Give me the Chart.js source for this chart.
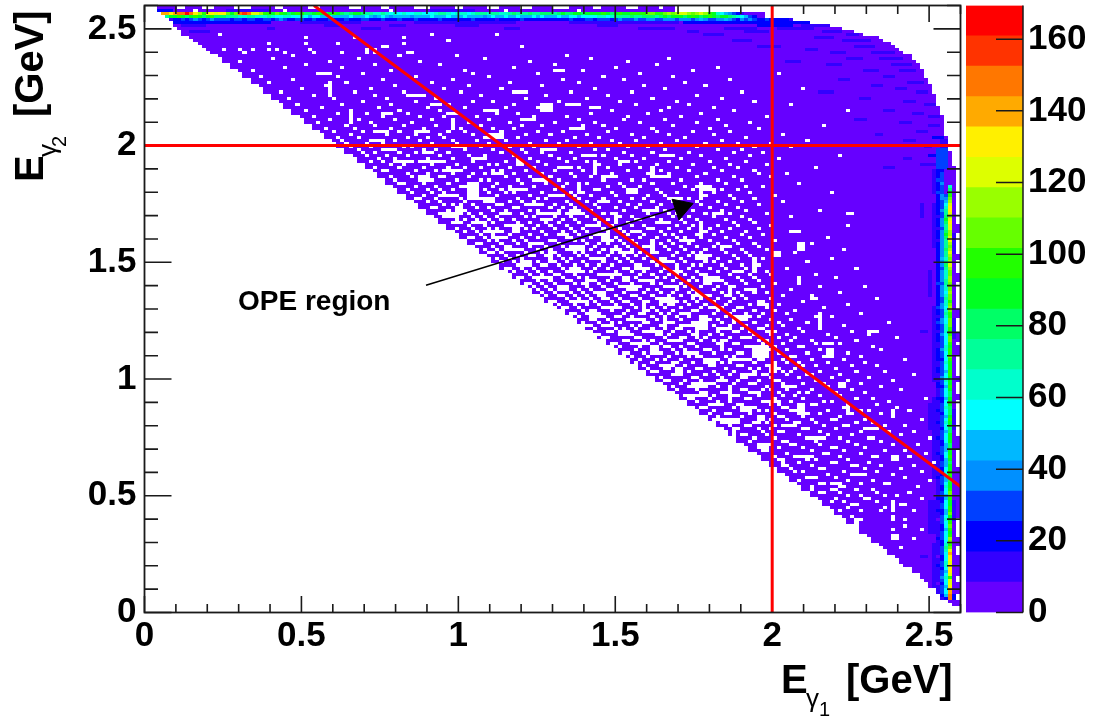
<!DOCTYPE html>
<html>
<head>
<meta charset="utf-8">
<title>OPE region</title>
<script src="https://cdn.jsdelivr.net/npm/chart.js@4/dist/chart.umd.js"></script>
<style>
body { margin: 0; background: #fff; width: 1094px; height: 717px; overflow: hidden; position: relative; }
canvas { position: absolute; top: 0; }
</style>
</head>
<body>
<canvas id="chart" width="1094" height="717" style="left:0"></canvas>
<canvas id="palette" width="134" height="717" style="left:960px"></canvas>
<script>
const binCount = 200;
const maxEnergy = 2.6;
const maxCount = 169.4;
const baseCount = 4;

const xTickLabels = [0, 0.5, 1, 1.5, 2, 2.5];
const yTickLabels = [0, 0.5, 1, 1.5, 2, 2.5];
const zTickLabels = [0, 20, 40, 60, 80, 100, 120, 140, 160];

// palette, lowest band first
const bandColors = ['#6600ff', '#3300ff', '#0000ff', '#0040ff', '#0090ff', '#00b8ff', '#00ffff', '#00ffcc', '#00ff99', '#00ff66',
    '#00ff22', '#22ff00', '#66ff00', '#99ff00', '#ddff00', '#fff000', '#ffaa00', '#ff7700', '#ff3300', '#ff0000'];

// first filled column of each row, bottom row first
const rowStart = [200, 200, 198, 197, 195, 195, 194, 194, 192, 192, 191, 190, 190, 188, 188, 186, 185, 185, 184, 182,
    182, 181, 180, 178, 178, 177, 175, 175, 174, 172, 172, 171, 169, 169, 168, 166, 166, 165, 163, 163,
    161, 161, 160, 158, 158, 157, 155, 155, 153, 153, 151, 151, 150, 148, 148, 147, 145, 145, 143, 143,
    142, 140, 140, 138, 138, 136, 136, 135, 133, 133, 131, 131, 130, 128, 128, 127, 125, 125, 123, 123,
    121, 121, 119, 119, 118, 116, 116, 115, 113, 113, 111, 111, 110, 108, 108, 106, 106, 105, 103, 103,
    101, 100, 98, 98, 97, 95, 95, 94, 92, 92, 90, 90, 89, 87, 87, 85, 85, 84, 82, 82,
    81, 79, 79, 77, 77, 76, 74, 74, 72, 72, 71, 69, 69, 67, 67, 66, 64, 64, 62, 62,
    61, 59, 59, 57, 57, 56, 54, 54, 52, 52, 51, 49, 49, 47, 47, 46, 44, 44, 43, 41,
    41, 39, 39, 38, 36, 36, 34, 34, 33, 31, 31, 29, 29, 28, 26, 26, 24, 24, 23, 21,
    21, 19, 19, 18, 16, 15, 14, 13, 12, 11, 9, 9, 8, 7, 7, 6, 5, 4, 3, 3];

// last filled column from row 136 up, rows below end at column 199
const rowEndTop = [198, 198, 198, 198, 198, 198, 198, 198, 198, 198, 198, 197, 197, 197, 197, 197, 196, 196, 196, 196,
    196, 195, 195, 195, 195, 195, 195, 195, 194, 194, 194, 193, 193, 193, 193, 192, 192, 192, 191, 191,
    190, 190, 190, 189, 189, 188, 187, 187, 185, 184, 183, 182, 180, 179, 175, 173, 170, 167, 162, 158,
    151, 151, 129, 129];

// rows where the last column is empty
const edgeHoleRows = [4, 5, 10, 11, 19, 20, 21, 25, 26, 27, 28, 29, 30, 48, 49, 50, 51, 52, 53, 58, 59, 60, 61, 62, 63, 64, 65, 66, 67, 68, 69,
    72, 73, 74, 75, 78, 79, 80, 81, 82, 83, 84, 88, 92, 93, 94, 95, 96, 100, 101, 102, 103, 104, 105, 106, 107, 108,
    112, 113, 114, 115, 118, 119, 120, 121, 122, 123, 124, 128, 129, 130, 131, 132, 133, 134, 135];

// empty bins, one list per row, from row 21 up
const firstHoleRow = 21;
const holeRows = [
    [185], [], [], [183, 184, 188], [183, 184], [], [183, 190], [174, 186], [], [175, 183, 186],
    [168, 173, 183], [], [170, 175, 180, 188], [166, 167, 172, 181], [173, 174, 185, 186], [168, 171, 179, 183], [169, 176, 177, 190], [172, 175, 181, 184], [165, 166, 170, 179, 187], [163, 168, 169, 174, 178],
    [163, 170, 171, 189], [165, 166, 175, 181, 182], [160, 172, 178, 192], [162, 163, 164, 169, 186], [167, 174, 175, 183], [159, 161, 171, 179, 190], [158, 165, 166, 176, 185], [156, 157, 163, 173, 174, 180, 188], [160, 168, 169, 177, 193], [155, 162, 164, 172, 184],
    [154, 159, 160, 170, 178, 179, 187], [157, 166, 167, 175, 191], [151, 152, 163, 171, 181, 186], [150, 155, 161, 168, 169, 176], [153, 158, 159, 165, 174, 183, 189], [148, 156, 157, 164, 172, 180], [149, 154, 162, 163, 170, 177, 178, 192], [146, 147, 152, 160, 167, 173, 185], [144, 151, 155, 156, 165, 175, 182, 188], [145, 150, 153, 161, 162, 169, 179],
    [143, 147, 148, 154, 158, 166, 171, 172, 181, 186], [141, 149, 150, 152, 159, 160, 164, 174, 178], [144, 145, 153, 157, 163, 168, 169, 176, 190], [140, 146, 151, 155, 156, 161, 170, 183], [138, 142, 143, 148, 154, 162, 165, 173, 180], [139, 147, 150, 152, 158, 159, 167, 175, 177, 187], [136, 137, 144, 149, 156, 157, 160, 171, 184], [141, 145, 146, 153, 155, 163, 164, 172, 179], [135, 140, 143, 151, 152, 158, 166, 168, 182], [133, 134, 138, 147, 148, 154, 161, 174, 178, 191],
    [132, 139, 144, 145, 150, 156, 159, 165, 170], [136, 137, 141, 142, 149, 155, 160, 162, 169, 176], [130, 135, 146, 147, 151, 153, 157, 163, 173, 185], [129, 133, 134, 140, 143, 152, 158, 159, 167, 171, 180], [131, 138, 139, 144, 148, 149, 156, 161, 166, 175], [127, 128, 132, 136, 142, 145, 150, 154, 155, 164, 172, 183], [126, 134, 135, 141, 146, 147, 153, 160, 168, 177], [129, 130, 137, 140, 143, 151, 152, 157, 162, 163, 170, 188], [124, 125, 131, 133, 139, 144, 149, 156, 158, 165, 174, 181], [123, 127, 128, 135, 136, 142, 148, 150, 155, 159, 169],
    [122, 126, 132, 138, 139, 145, 146, 152, 153, 161, 164, 173, 179], [120, 124, 129, 130, 134, 141, 143, 149, 154, 157, 160, 167, 176], [121, 125, 127, 131, 137, 140, 147, 148, 151, 156, 163, 171, 186], [119, 123, 128, 133, 135, 136, 142, 144, 150, 158, 159, 166, 175], [117, 118, 122, 126, 130, 134, 139, 145, 146, 152, 155, 162, 168, 172], [120, 124, 125, 129, 132, 137, 138, 143, 149, 153, 157, 165, 180], [116, 121, 127, 128, 131, 135, 141, 147, 148, 154, 160, 161, 178], [114, 115, 119, 123, 126, 133, 134, 140, 144, 145, 151, 156, 164, 170], [117, 118, 122, 124, 129, 130, 136, 139, 142, 150, 152, 158, 163, 174], [112, 113, 120, 121, 127, 131, 132, 137, 143, 146, 147, 155, 159, 169, 184],
    [111, 116, 119, 125, 126, 128, 134, 135, 138, 141, 149, 153, 157, 167, 177], [113, 114, 118, 122, 123, 129, 133, 140, 144, 145, 148, 154, 161, 173], [110, 115, 117, 120, 124, 127, 130, 131, 137, 142, 146, 150, 151, 160, 165], [108, 109, 112, 119, 121, 126, 132, 136, 139, 143, 147, 152, 156, 171], [107, 111, 114, 116, 122, 123, 128, 129, 134, 135, 141, 144, 149, 155, 162, 182], [109, 110, 113, 118, 120, 125, 127, 131, 138, 140, 145, 146, 153, 158], [106, 112, 115, 116, 119, 124, 130, 133, 136, 137, 142, 148, 150, 164, 168], [104, 105, 108, 111, 117, 121, 122, 126, 128, 132, 139, 143, 147, 151, 157, 175], [107, 109, 110, 114, 118, 123, 125, 129, 134, 135, 140, 144, 149, 154, 159], [102, 103, 106, 112, 113, 116, 120, 124, 127, 131, 136, 138, 141, 145, 146, 152, 166],
    [101, 105, 108, 111, 115, 119, 122, 126, 128, 129, 133, 137, 142, 148, 155, 172], [99, 100, 104, 107, 110, 114, 117, 118, 123, 130, 132, 135, 139, 143, 150, 151, 161], [103, 106, 109, 112, 113, 116, 121, 125, 127, 134, 136, 140, 144, 147, 153, 179], [98, 101, 102, 105, 108, 115, 119, 120, 124, 128, 131, 137, 138, 142, 146, 156, 163], [97, 100, 104, 107, 110, 111, 117, 122, 126, 129, 133, 135, 141, 145, 149, 152, 170], [96, 99, 103, 106, 109, 113, 114, 118, 123, 125, 130, 134, 139, 143, 148, 158], [95, 98, 101, 102, 108, 112, 116, 120, 121, 127, 128, 132, 136, 140, 144, 151, 165, 176], [93, 94, 97, 100, 105, 107, 111, 115, 119, 124, 126, 131, 137, 138, 142, 147, 154], [96, 99, 103, 104, 109, 110, 113, 117, 122, 123, 129, 133, 135, 141, 146, 150, 160], [91, 92, 95, 98, 102, 106, 108, 114, 118, 120, 125, 127, 130, 134, 139, 145, 149, 169],
    [94, 97, 100, 101, 105, 111, 112, 116, 121, 124, 128, 132, 136, 137, 143, 148, 153, 164], [90, 93, 96, 99, 103, 107, 109, 115, 119, 122, 126, 129, 131, 135, 140, 144, 152], [88, 89, 92, 95, 102, 104, 106, 110, 113, 117, 118, 123, 127, 133, 138, 142, 147, 157, 174], [91, 94, 97, 98, 101, 105, 108, 111, 114, 120, 121, 125, 130, 134, 136, 141, 146, 150], [87, 90, 93, 96, 100, 103, 107, 112, 116, 119, 124, 128, 132, 137, 139, 143, 149, 162], [86, 89, 92, 99, 102, 104, 109, 110, 115, 118, 122, 126, 127, 131, 135, 140, 145, 151, 168], [88, 91, 94, 95, 98, 101, 106, 108, 113, 117, 120, 123, 129, 133, 138, 144, 148, 155], [84, 85, 87, 93, 97, 100, 105, 107, 111, 114, 116, 121, 125, 130, 134, 136, 142, 147, 159], [83, 86, 90, 92, 96, 99, 103, 104, 109, 112, 119, 124, 128, 132, 137, 141, 146, 152, 171], [85, 88, 89, 94, 98, 102, 106, 110, 115, 118, 122, 123, 127, 131, 135, 139, 143, 150],
    [81, 82, 87, 91, 95, 97, 101, 108, 111, 113, 117, 120, 126, 129, 133, 140, 145, 149, 163], [84, 86, 90, 93, 99, 100, 105, 107, 114, 116, 119, 124, 128, 134, 138, 144, 154], [79, 80, 83, 88, 92, 96, 103, 104, 109, 112, 115, 121, 125, 130, 132, 136, 142, 148, 167], [82, 85, 89, 94, 98, 101, 106, 110, 111, 118, 122, 127, 129, 135, 139, 146, 151], [78, 81, 87, 90, 91, 97, 102, 105, 108, 113, 117, 120, 126, 131, 137, 141, 147, 160], [76, 80, 84, 86, 93, 95, 100, 104, 107, 112, 116, 123, 124, 128, 133, 138, 143, 150], [79, 83, 88, 89, 92, 96, 99, 103, 109, 114, 119, 122, 130, 134, 140, 145, 153, 172], [75, 77, 82, 85, 91, 94, 98, 101, 106, 111, 115, 118, 125, 127, 132, 136, 144, 149], [78, 81, 84, 87, 90, 97, 102, 105, 110, 113, 120, 121, 126, 131, 135, 142, 148], [73, 76, 80, 83, 86, 93, 95, 100, 104, 108, 116, 119, 124, 129, 133, 139, 146, 158],
    [72, 75, 79, 82, 89, 92, 98, 103, 107, 112, 114, 123, 128, 130, 137, 143, 152], [74, 77, 78, 85, 88, 94, 96, 101, 106, 109, 117, 122, 127, 134, 141, 147, 165], [70, 71, 76, 81, 84, 90, 91, 99, 102, 105, 111, 115, 120, 125, 132, 138, 145], [73, 75, 80, 86, 87, 93, 97, 100, 104, 110, 118, 121, 126, 131, 136, 142, 150], [69, 72, 78, 83, 89, 92, 95, 103, 108, 113, 116, 124, 129, 135, 140, 146, 156], [66, 67, 71, 77, 82, 85, 91, 96, 98, 106, 112, 119, 122, 128, 133, 144, 149], [68, 74, 76, 81, 86, 94, 99, 101, 105, 109, 115, 123, 127, 137, 143, 154], [65, 70, 73, 79, 84, 88, 90, 97, 104, 107, 114, 120, 126, 130, 139, 148, 168], [64, 69, 72, 75, 80, 83, 87, 93, 100, 110, 111, 118, 125, 134, 141, 145], [66, 71, 77, 78, 85, 89, 95, 102, 106, 113, 117, 121, 132, 138, 147, 151],
    [62, 63, 68, 74, 81, 86, 92, 98, 103, 108, 116, 124, 129, 136, 142, 160], [61, 67, 70, 76, 82, 84, 91, 96, 101, 112, 119, 122, 131, 140, 146], [60, 65, 72, 73, 79, 88, 94, 99, 105, 109, 115, 127, 135, 144, 153], [64, 69, 75, 80, 83, 90, 97, 104, 110, 114, 123, 128, 137, 150, 157], [58, 59, 66, 71, 77, 85, 87, 93, 100, 107, 118, 126, 133, 141, 149], [56, 62, 68, 74, 78, 82, 89, 95, 102, 106, 113, 121, 130, 139, 145, 164], [60, 63, 70, 76, 84, 86, 92, 98, 111, 116, 125, 134, 143, 152], [55, 58, 65, 67, 73, 80, 88, 96, 103, 108, 120, 128, 138, 147], [57, 61, 69, 75, 81, 91, 94, 101, 105, 115, 122, 131, 142, 155], [54, 59, 64, 72, 79, 83, 90, 99, 107, 112, 119, 129, 136, 148, 170],
    [53, 56, 62, 66, 74, 87, 93, 97, 104, 117, 124, 133, 144, 151], [52, 60, 68, 71, 78, 85, 92, 100, 110, 113, 127, 140, 146], [50, 55, 63, 65, 77, 82, 89, 95, 106, 118, 123, 135, 149, 158],
    // 2 GeV and up
    [49, 54, 58, 70, 76, 84, 94, 101, 109, 116, 126, 137, 145, 153], [48, 57, 61, 67, 75, 81, 88, 98, 103, 114, 120, 130, 141, 162], [47, 52, 64, 69, 73, 83, 91, 105, 111, 122, 132, 147], [50, 59, 66, 72, 80, 86, 93, 99, 108, 119, 128, 139, 156], [46, 53, 62, 74, 78, 87, 96, 102, 113, 125, 134, 143], [44, 51, 60, 68, 77, 85, 90, 104, 115, 124, 138, 150], [49, 56, 63, 71, 82, 92, 97, 107, 112, 129, 142, 166],
    [42, 55, 65, 75, 79, 89, 100, 110, 121, 135, 148], [45, 52, 61, 70, 84, 94, 106, 117, 127, 140], [41, 58, 67, 73, 81, 95, 103, 118, 131, 152], [47, 54, 64, 76, 86, 91, 109, 123, 136], [39, 50, 62, 72, 83, 99, 114, 126, 144, 172], [43, 57, 69, 78, 88, 96, 111, 128, 139], [37, 48, 60, 74, 90, 105, 120, 133, 158], [53, 66, 80, 85, 101, 116, 130, 149], [35, 46, 59, 71, 93, 108, 124, 141], [41, 56, 68, 82, 98, 113, 135],
    [33, 51, 63, 77, 92, 104, 119, 146], [38, 55, 73, 87, 110, 127, 161], [44, 61, 79, 97, 122, 137], [30, 49, 70, 89, 106, 132], [36, 58, 75, 102, 117, 143], [28, 47, 66, 84, 112, 129], [42, 53, 80, 96, 121, 155], [26, 60, 78, 107, 134], [34, 48, 90, 115, 140], [39, 56, 72, 100, 125],
    [23, 45, 67, 94, 118], [31, 52, 83, 109, 128], [36, 62, 76, 103], [24, 34, 41, 48, 54, 56, 64, 65], [19, 23, 26, 30, 32, 40, 54, 56], [58, 59, 92], [30, 39, 47, 63], [74], [39, 51, 63], [18, 70, 86]
];

// clumps of empty bins: first col, last col, first row, last row
const holeClumps = [[130, 130, 134, 136], [136, 136, 136, 140], [137, 139, 139, 139], [165, 165, 94, 98], [160, 161, 119, 121], [154, 155, 117, 118], [149, 149, 112, 116], [147, 149, 106, 106], [116, 119, 107, 107], [117, 118, 109, 110],
    [114, 116, 119, 119], [149, 152, 84, 87], [131, 135, 94, 94], [136, 137, 93, 97], [167, 168, 84, 86], [163, 164, 103, 103], [172, 173, 131, 131], [158, 159, 125, 125], [139, 145, 63, 63], [133, 137, 71, 71],
    [144, 144, 57, 60], [160, 163, 51, 51], [173, 176, 45, 45], [172, 172, 65, 68], [183, 183, 64, 66], [183, 184, 50, 51], [183, 183, 33, 35], [174, 174, 28, 30], [79, 81, 136, 140], [73, 75, 130, 131],
    [76, 76, 128, 132], [83, 86, 125, 125], [96, 101, 131, 131], [43, 45, 177, 177], [45, 45, 170, 174], [50, 50, 161, 165], [56, 59, 158, 158], [64, 67, 170, 170], [58, 61, 152, 152], [100, 102, 178, 178],
    [103, 106, 167, 167], [109, 111, 166, 166], [90, 93, 171, 171], [97, 99, 165, 167], [74, 76, 164, 164], [68, 72, 148, 148], [125, 128, 143, 143], [110, 110, 145, 148],
    [142, 145, 62, 62], [150, 151, 63, 64], [156, 159, 61, 61], [146, 148, 66, 67], [160, 161, 65, 68], [138, 141, 68, 68], [152, 155, 69, 69], [143, 143, 70, 73], [148, 150, 72, 72], [134, 137, 74, 75],
    [156, 158, 74, 74], [140, 142, 76, 76], [130, 131, 78, 80], [146, 149, 78, 78], [153, 154, 79, 81], [126, 129, 81, 81], [137, 139, 82, 83], [143, 146, 83, 83], [150, 150, 83, 87], [132, 135, 85, 85],
    [124, 125, 85, 87], [141, 141, 86, 89], [120, 123, 88, 88], [128, 131, 89, 89], [146, 148, 90, 90], [135, 135, 90, 93], [116, 118, 91, 92], [123, 126, 92, 92], [140, 143, 93, 93], [152, 154, 92, 92],
    [112, 114, 94, 94], [127, 127, 94, 97], [119, 122, 96, 96], [144, 147, 96, 97], [109, 111, 97, 98], [131, 133, 98, 98], [114, 116, 100, 100], [122, 122, 99, 102], [138, 141, 100, 100], [150, 152, 101, 101],
    [105, 108, 102, 102], [126, 129, 102, 103], [111, 112, 104, 105], [134, 136, 104, 104], [118, 120, 106, 106], [143, 143, 104, 107], [101, 103, 106, 107], [128, 130, 107, 107], [108, 108, 107, 110], [121, 124, 109, 109],
    [137, 140, 109, 110], [96, 99, 110, 110], [113, 115, 111, 111], [130, 130, 110, 113], [104, 106, 112, 113], [120, 122, 113, 113], [144, 146, 112, 112], [92, 94, 114, 115], [126, 129, 115, 115], [110, 112, 116, 116],
    [135, 137, 116, 117], [99, 99, 115, 118], [116, 119, 118, 118], [88, 91, 119, 119], [104, 107, 119, 120], [124, 124, 118, 121], [141, 143, 120, 120], [94, 96, 121, 121], [131, 134, 122, 122], [112, 113, 122, 124],
    [85, 87, 123, 123], [101, 103, 124, 124], [119, 121, 125, 125], [136, 136, 124, 127], [90, 91, 126, 127], [108, 111, 127, 127], [126, 128, 128, 128], [80, 83, 128, 128], [97, 99, 129, 129], [115, 115, 128, 131],
    [87, 89, 131, 131], [104, 106, 131, 132], [122, 125, 132, 132], [139, 141, 131, 131], [77, 77, 131, 134], [93, 96, 134, 134], [111, 113, 135, 135], [83, 85, 135, 136], [129, 131, 136, 136], [100, 102, 137, 137],
    [72, 75, 137, 137], [118, 120, 138, 139], [89, 92, 139, 139], [106, 106, 138, 141], [135, 137, 140, 140], [79, 81, 141, 141], [95, 98, 142, 142], [67, 69, 142, 143], [112, 115, 143, 143], [85, 87, 144, 144],
    [124, 124, 143, 146], [73, 76, 145, 145], [101, 104, 146, 146], [91, 92, 147, 148], [61, 64, 148, 148], [116, 118, 148, 148], [80, 83, 149, 149], [108, 110, 150, 150], [68, 70, 151, 151], [97, 99, 152, 152],
    [126, 129, 150, 150], [75, 78, 153, 153], [55, 58, 155, 155], [84, 87, 156, 157], [66, 69, 158, 158], [104, 107, 159, 159], [75, 75, 159, 162], [92, 95, 162, 162], [58, 60, 164, 164], [84, 86, 165, 165],
    [70, 72, 167, 167], [150, 152, 54, 55], [164, 166, 57, 57], [156, 156, 48, 50], [168, 170, 42, 42], [176, 178, 60, 60], [170, 171, 74, 75], [166, 168, 88, 88], [177, 179, 92, 92], [160, 160, 108, 110]];

// counts of the hot column and its neighbours, from row 4 up
const col197Counts = [145, 145, 140, 140, 130, 125, 120, 100, 125, 130, 130, 128, 122, 130, 135, 140, 125, 110, 100, 105, 115, 95, 90, 100, 110, 95, 88, 92, 105, 100,
    95, 90, 85, 98, 105, 110, 95, 90, 88, 80, 85, 95, 100, 92, 85, 82, 90, 98, 88, 85, 80, 78, 85, 92, 88, 82, 80, 85, 90, 95,
    88, 80, 78, 82, 88, 92, 85, 80, 82, 90, 95, 90, 85, 88, 95, 100, 92, 88, 90, 98, 105, 100, 95, 90, 95, 102, 108, 100, 95, 98,
    105, 110, 102, 98, 100, 108, 112, 105, 100, 102, 110, 115, 108, 104, 110, 118, 112, 105, 108, 115, 120, 112, 108, 114, 122, 118, 110, 115, 122, 126,
    118, 112, 120, 126, 130, 122, 116, 124, 130, 128, 120, 112, 105, 100, 90, 80, 60];
const col196Counts = [20, 45, 52, 55, 48, 52, 58, 62, 55, 48, 52, 60, 66, 58, 52, 56, 62, 70, 64, 55, 52, 58, 54, 48, 52, 56, 60, 54, 50, 48,
    52, 58, 54, 50, 46, 52, 56, 60, 52, 48, 50, 54, 58, 52, 48, 46, 50, 55, 52, 48, 45, 50, 54, 58, 52, 48, 52, 56, 60, 54,
    50, 52, 58, 62, 55, 52, 48, 54, 58, 52, 50, 55, 60, 56, 52, 50, 54, 58, 62, 56, 52, 55, 60, 64, 58, 54, 52, 56, 62, 66,
    60, 55, 58, 64, 68, 62, 56, 60, 66, 70, 62, 58, 60, 66, 72, 68, 62, 60, 66, 74, 78, 70, 64, 68, 76, 82, 74, 68, 72, 80,
    86, 78, 70, 74, 82, 88, 80, 72, 68, 60, 52, 44, 36, 30];
const col195Counts = [12, 22, 28, 30, 26, 24, 30, 34, 28, 26, 24, 30, 26, 24, 22, 28, 32, 26, 24, 22, 28, 30, 26, 24, 20, 26, 30, 28, 24, 22,
    28, 26, 22, 24, 30, 28, 24, 22, 26, 30, 28, 24, 20, 24, 28, 26, 22, 24, 28, 30, 26, 22, 20, 26, 30, 28, 24, 26, 30, 32,
    26, 24, 28, 30, 26, 22, 24, 28, 32, 28, 24, 26, 30, 34, 28, 26, 30, 32, 28, 24, 26, 30, 34, 30, 26, 28, 32, 36, 30, 26,
    30, 34, 36, 30, 28, 32, 36, 38, 32, 30, 34, 36, 40, 34, 30, 34, 38, 42, 36, 32, 36, 40, 44, 36, 34, 38, 42, 36, 34, 38,
    40, 36, 32, 36, 38, 34, 30, 32, 36, 32, 28, 30, 34, 36, 32, 30, 32, 34, 30, 28, 26, 24];
const col194Counts = [4, 8, 12, 14, 10, 8, 12, 16, 12, 10, 14, 18, 12, 10, 8, 12, 16, 14, 10, 12, 18, 14, 10, 12, 16, 12, 8, 10, 14, 18,
    12, 10, 16, 18, 12, 10, 14, 10, 12, 16, 18, 14, 10, 12, 16, 14, 10, 12, 18, 16, 12, 10, 14, 18, 12, 10, 14, 16, 18, 14,
    12, 16, 18, 14, 12, 16, 20, 16, 12, 14, 18, 20, 16, 12, 14, 18, 22, 16, 14, 18, 20, 24, 18, 14, 16, 20, 24, 18, 16, 20,
    22, 26, 20, 16, 18, 22, 26, 20, 18, 22, 24, 20, 18, 22, 26, 22, 18, 20, 24, 22, 18, 20, 24, 20, 18, 22, 24, 20, 16, 20,
    22, 18, 16, 20, 22, 18, 14, 18, 20, 24, 20, 18, 22, 24, 28, 24, 20, 24, 26, 24, 22, 20];

// counts along the hot rows at the top, each starting at its first column
const row197Counts = [140, 142, 135, 138, 145, 150, 165, 145, 130, 118, 100, 128, 135, 122, 132, 128, 105, 92, 110, 145, 160, 148, 125, 120, 115, 100, 96, 92, 110, 100,
    88, 84, 92, 100, 96, 84, 80, 90, 96, 86, 82, 92, 98, 88, 80, 72, 78, 85, 90, 82, 74, 68, 62, 66, 72, 64, 58, 62, 56, 60,
    54, 58, 62, 66, 58, 52, 56, 62, 68, 72, 64, 58, 62, 66, 60, 56, 62, 68, 74, 68, 62, 70, 74, 66, 62, 70, 78, 74, 70, 76,
    80, 74, 70, 78, 84, 80, 76, 82, 86, 80, 84, 90, 86, 82, 88, 92, 86, 90, 96, 90, 84, 92, 98, 92, 88, 94, 100, 94, 98, 104,
    108, 100, 96, 104, 112, 108, 116, 122, 126, 118, 110, 118, 124, 112, 100, 85, 60, 56, 50, 36, 30, 22, 14, 8, 5, 4, 4, 4];
const row196Counts = [70, 88, 92, 96, 90, 84, 92, 98, 88, 84, 90, 94, 84, 78, 82, 74, 70, 76, 66, 62, 70, 74, 66, 60, 64, 70, 62, 58, 54, 62,
    66, 58, 54, 60, 52, 48, 54, 58, 50, 46, 52, 48, 44, 50, 46, 52, 48, 44, 50, 54, 46, 42, 48, 52, 46, 42, 48, 44, 50, 46,
    42, 46, 50, 44, 48, 52, 46, 44, 50, 54, 48, 44, 46, 52, 48, 44, 50, 46, 42, 48, 52, 44, 48, 54, 50, 46, 52, 48, 44, 50,
    54, 48, 52, 46, 44, 50, 54, 50, 46, 52, 56, 50, 54, 58, 52, 56, 60, 64, 58, 62, 70, 74, 68, 72, 78, 74, 70, 78, 84, 80,
    76, 84, 88, 82, 86, 92, 88, 84, 90, 94, 88, 84, 92, 96, 88, 84, 90, 86, 80, 76, 62, 52, 44, 30, 20, 8, 4];
const row195Counts = [14, 20, 24, 26, 22, 30, 34, 28, 24, 30, 36, 30, 26, 32, 28, 24, 30, 26, 22, 28, 30, 24, 20, 26, 30, 24, 28, 34, 30, 24,
    20, 26, 30, 24, 22, 28, 24, 20, 24, 28, 22, 18, 24, 28, 24, 20, 22, 26, 30, 24, 20, 24, 28, 22, 20, 24, 28, 24, 20, 22,
    26, 20, 18, 24, 20, 24, 28, 22, 18, 20, 24, 22, 18, 22, 26, 20, 18, 22, 24, 20, 16, 20, 24, 22, 18, 22, 26, 22, 18, 20,
    24, 20, 18, 22, 20, 18, 22, 24, 26, 22, 20, 24, 28, 26, 24, 28, 32, 26, 24, 30, 34, 28, 26, 30, 36, 32, 28, 34, 38, 32,
    30, 36, 40, 34, 30, 36, 42, 36, 32, 38, 44, 36, 30, 26, 34, 38, 44, 36, 28, 24, 40, 30, 36, 26, 22, 24, 26, 22, 24, 20,
    20, 18, 16];

// strips of slightly higher counts: first col, last col, first row, last row, count
const countPatches = [[7, 30, 194, 194, 18], [38, 52, 194, 194, 12], [66, 90, 194, 194, 12], [104, 130, 194, 194, 14], [132, 162, 194, 194, 20],
    [150, 158, 193, 193, 20], [161, 167, 193, 193, 14], [142, 149, 192, 192, 12], [155, 163, 192, 192, 14], [9, 14, 193, 193, 12], [11, 15, 191, 191, 12], [30, 31, 192, 192, 12],
    [44, 47, 193, 193, 12], [53, 57, 192, 192, 12], [60, 63, 193, 193, 12], [76, 81, 193, 193, 12], [88, 91, 192, 192, 12], [111, 115, 193, 193, 12], [121, 129, 192, 192, 12], [133, 135, 191, 191, 12],
    [137, 141, 190, 190, 12], [147, 152, 191, 191, 12], [144, 148, 188, 188, 12], [150, 155, 186, 186, 12], [166, 170, 191, 191, 14], [172, 174, 190, 190, 12], [164, 168, 189, 189, 12], [171, 177, 188, 188, 14],
    [174, 178, 186, 186, 12], [168, 171, 184, 184, 12], [178, 183, 184, 184, 14], [162, 164, 185, 185, 12], [180, 185, 182, 182, 12], [172, 175, 182, 182, 12], [157, 160, 181, 181, 12], [183, 187, 180, 180, 14],
    [167, 170, 180, 180, 12], [176, 179, 178, 178, 12], [185, 188, 178, 178, 12], [181, 183, 176, 176, 14], [170, 172, 175, 175, 12], [187, 190, 174, 174, 14], [178, 180, 173, 173, 12], [184, 186, 172, 172, 12],
    [189, 191, 171, 171, 14], [165, 168, 171, 171, 12], [175, 177, 169, 169, 12], [186, 188, 168, 168, 12], [191, 193, 167, 167, 14], [181, 183, 165, 165, 12], [188, 190, 164, 164, 12], [192, 194, 163, 163, 16],
    [174, 176, 162, 162, 12], [185, 187, 161, 161, 12], [192, 194, 160, 160, 14], [189, 191, 158, 158, 14], [179, 180, 157, 157, 12], [193, 195, 156, 156, 18], [186, 188, 155, 155, 12], [191, 192, 153, 153, 14],
    [195, 196, 153, 155, 16], [194, 196, 146, 152, 28], [192, 193, 150, 150, 18], [186, 187, 149, 149, 12], [190, 193, 147, 147, 14], [181, 183, 146, 146, 12], [193, 193, 138, 145, 12], [190, 190, 130, 134, 12],
    [193, 193, 120, 134, 12], [192, 192, 104, 112, 12], [190, 191, 92, 92, 12], [193, 193, 76, 100, 12], [192, 192, 60, 68, 12], [193, 193, 44, 70, 12], [192, 193, 26, 36, 12], [190, 191, 18, 18, 12],
    [193, 193, 8, 22, 12], [188, 189, 12, 12, 12], [198, 198, 4, 5, 20], [198, 198, 30, 36, 12], [198, 198, 60, 66, 12], [198, 198, 90, 96, 12], [198, 198, 118, 124, 14], [2, 6, 198, 198, 20], [20, 30, 198, 198, 12], [70, 80, 198, 198, 12]];

// empty bins of the two rows touching the top of the frame
const row199Holes = [8, 9, 14, 15, 16, 22, 23, 24, 25, 32, 33, 40, 41, 42, 50, 51, 52, 58, 59, 66, 67, 68, 69, 76, 77, 84, 85, 86, 92, 93, 94, 100, 101, 102, 103, 110, 111, 118, 119, 120, 126];
const row198Holes = [12, 34, 60, 88, 106];

// red lines and the arrow, in GeV
const cutE1 = [2, 2];
const cutE1Range = [0, 2.6];
const cutE2 = [2, 2];
const cutSumE1 = [0.54, 2.6];
const cutSumE2 = [2.6, 0.54];
const arrowE1 = [0.897, 1.705];
const arrowE2 = [1.402, 1.736];
const arrowHeadE1 = [1.681, 1.748, 1.703, 1.681];
const arrowHeadE2 = [1.77, 1.752, 1.681, 1.77];

const binWidth = maxEnergy / binCount;

function buildCells() {
    let grid = [];
    for (let r = 0; r < binCount; r++) {
        let last = r < 136 ? 199 : rowEndTop[r - 136];
        let row = {};
        for (let c = rowStart[r]; c <= last; c++) {
            row[c] = baseCount;
        }
        grid.push(row);
    }
    function put(c, r, v) {
        if (grid[r] && grid[r][c] !== undefined) {
            grid[r][c] = v;
        }
    }
    countPatches.forEach(p => {
        for (let c = p[0]; c <= p[1]; c++) {
            for (let r = p[2]; r <= p[3]; r++) {
                put(c, r, p[4]);
            }
        }
    });
    col197Counts.forEach((v, i) => put(197, i + 4, v));
    col196Counts.forEach((v, i) => put(196, i + 4, v));
    col195Counts.forEach((v, i) => put(195, i + 4, v));
    col194Counts.forEach((v, i) => put(194, i + 4, v));
    row197Counts.forEach((v, i) => put(i + 4, 197, v));
    row196Counts.forEach((v, i) => put(i + 5, 196, v));
    row195Counts.forEach((v, i) => put(i + 6, 195, v));

    holeRows.forEach((list, i) => list.forEach(c => { delete grid[i + firstHoleRow][c]; }));
    holeClumps.forEach(h => {
        for (let c = h[0]; c <= h[1]; c++) {
            for (let r = h[2]; r <= h[3]; r++) {
                delete grid[r][c];
            }
        }
    });
    edgeHoleRows.forEach(r => { delete grid[r][199]; });
    row199Holes.forEach(c => { delete grid[199][c]; });
    row198Holes.forEach(c => { delete grid[198][c]; });

    let cells = [];
    grid.forEach((row, r) => {
        Object.keys(row).forEach(c => {
            cells.push({ x: (Number(c) + 0.5) * binWidth, y: (r + 0.5) * binWidth, v: row[c] });
        });
    });
    return cells;
}

function pairs(xs, ys) {
    return xs.map((x, i) => ({ x: x, y: ys[i] }));
}

function bandColor(v) {
    let band = Math.floor(v / (maxCount / bandColors.length));
    return bandColors[Math.min(band, bandColors.length - 1)];
}

// inward ticks on all four sides
function drawTicks(chart) {
    let ctx = chart.ctx;
    let a = chart.chartArea;
    let xs = chart.scales.x;
    let ys = chart.scales.y;
    ctx.save();
    ctx.strokeStyle = '#1a1a1a';
    ctx.lineWidth = 1.6;
    ctx.beginPath();
    for (let i = 0; i <= 26; i++) {
        let major = i % 5 === 0;
        let xp = xs.getPixelForValue(i / 10);
        let yp = ys.getPixelForValue(i / 10);
        let xLen = major ? 16.5 : 8.5;
        let yLen = major ? 27 : 13.5;
        ctx.moveTo(xp, a.bottom);
        ctx.lineTo(xp, a.bottom - xLen);
        ctx.moveTo(xp, a.top);
        ctx.lineTo(xp, a.top + xLen);
        ctx.moveTo(a.left, yp);
        ctx.lineTo(a.left + yLen, yp);
        ctx.moveTo(a.right, yp);
        ctx.lineTo(a.right - yLen, yp);
    }
    ctx.stroke();
    ctx.restore();
}

// paints the histogram cells as rectangles through the chart's scales
const cellPainter = {
    id: 'cellPainter',
    beforeDatasetDraw(chart, args) {
        if (args.index !== 0) {
            return;
        }
        let ctx = chart.ctx;
        let xs = chart.scales.x;
        let ys = chart.scales.y;
        ctx.save();
        chart.data.datasets[0].data.forEach(d => {
            let x0 = Math.round(xs.getPixelForValue(d.x - binWidth / 2));
            let x1 = Math.round(xs.getPixelForValue(d.x + binWidth / 2));
            let y0 = Math.round(ys.getPixelForValue(d.y + binWidth / 2));
            let y1 = Math.round(ys.getPixelForValue(d.y - binWidth / 2));
            ctx.fillStyle = bandColor(d.v);
            ctx.fillRect(x0, y0, x1 - x0, y1 - y0);
        });
        ctx.restore();
        drawTicks(chart);
        return false;
    }
};

// frame and titles
const framePainter = {
    id: 'framePainter',
    afterDatasetsDraw(chart) {
        let ctx = chart.ctx;
        let a = chart.chartArea;
        ctx.save();
        ctx.strokeStyle = '#1a1a1a';
        ctx.lineWidth = 1.8;
        ctx.strokeRect(a.left, a.top, a.right - a.left, a.bottom - a.top);

        ctx.fillStyle = '#000';
        ctx.textBaseline = 'alphabetic';
        ctx.textAlign = 'left';
        ctx.font = 'bold 28px "Liberation Sans"';
        ctx.fillText('OPE region', 238, 310);

        ctx.font = 'bold 40px "Liberation Sans"';
        ctx.fillText('E', 781, 693);
        ctx.fillText('[GeV]', 846, 693);
        ctx.font = '26px "Liberation Sans"';
        ctx.fillText('γ', 806, 707);
        ctx.font = '20px "Liberation Sans"';
        ctx.fillText('1', 819, 716);

        ctx.translate(43, 182);
        ctx.rotate(-Math.PI / 2);
        ctx.font = 'bold 40px "Liberation Sans"';
        ctx.fillText('E', 0, 0);
        ctx.fillText('[GeV]', 65, 0);
        ctx.font = '26px "Liberation Sans"';
        ctx.fillText('γ', 25, 13);
        ctx.font = '20px "Liberation Sans"';
        ctx.fillText('2', 35, 23);
        ctx.restore();
    }
};

const tickFont = { family: 'Liberation Sans', weight: 'bold', size: 35 };

new Chart(document.getElementById('chart').getContext('2d'), {
    type: 'scatter',
    data: {
        datasets: [
            { label: 'cells', data: buildCells(), order: 10, pointRadius: 0 },
            { label: 'E1 cut', data: pairs(cutE1, cutE1Range), showLine: true, borderColor: '#ff0000', borderWidth: 3, pointRadius: 0, order: 3 },
            { label: 'E2 cut', data: pairs(cutE1Range, cutE2), showLine: true, borderColor: '#ff0000', borderWidth: 3, pointRadius: 0, order: 3 },
            { label: 'sum cut', data: pairs(cutSumE1, cutSumE2), showLine: true, borderColor: '#ff0000', borderWidth: 3, pointRadius: 0, order: 3 },
            { label: 'arrow', data: pairs(arrowE1, arrowE2), showLine: true, borderColor: '#000', borderWidth: 1.6, pointRadius: 0, order: 2 },
            { label: 'arrow head', data: pairs(arrowHeadE1, arrowHeadE2), showLine: true, borderColor: '#000', borderWidth: 1, backgroundColor: '#000', fill: 'shape', pointRadius: 0, tension: 0, order: 1 }
        ]
    },
    options: {
        responsive: false,
        animation: false,
        events: [],
        layout: { padding: { top: 5.5, right: 133.5 } },
        plugins: { legend: { display: false }, tooltip: { enabled: false } },
        scales: {
            x: {
                type: 'linear',
                min: 0,
                max: maxEnergy,
                grid: { display: false, drawTicks: false },
                border: { display: false },
                afterFit: s => { s.height = 104.5; s.paddingLeft = 0; s.paddingRight = 0; },
                afterBuildTicks: s => { s.ticks = xTickLabels.map(v => ({ value: v })); },
                ticks: { color: '#000', font: tickFont, padding: 3, maxRotation: 0, autoSkip: false, callback: v => String(v) }
            },
            y: {
                type: 'linear',
                min: 0,
                max: maxEnergy,
                grid: { display: false, drawTicks: false },
                border: { display: false },
                afterFit: s => { s.width = 144.5; s.paddingTop = 0; s.paddingBottom = 0; },
                afterBuildTicks: s => { s.ticks = yTickLabels.map(v => ({ value: v })); },
                ticks: { color: '#000', font: tickFont, padding: 8, autoSkip: false, callback: v => String(v) }
            }
        }
    },
    plugins: [cellPainter, framePainter]
});

// colour scale
const bandHeight = maxCount / bandColors.length;
const paletteFrame = {
    id: 'paletteFrame',
    afterDatasetsDraw(chart) {
        let ctx = chart.ctx;
        let a = chart.chartArea;
        let zs = chart.scales.y;
        ctx.save();
        ctx.strokeStyle = '#1a1a1a';
        ctx.lineWidth = 1.5;
        ctx.beginPath();
        ctx.moveTo(a.right, a.top);
        ctx.lineTo(a.right, a.bottom);
        zTickLabels.forEach(v => {
            let yp = zs.getPixelForValue(v);
            ctx.moveTo(a.right, yp);
            ctx.lineTo(a.right - 27, yp);
        });
        ctx.stroke();
        ctx.restore();
    }
};

new Chart(document.getElementById('palette').getContext('2d'), {
    type: 'bar',
    data: {
        labels: ['z'],
        datasets: bandColors.map((color, i) => ({
            data: [[i * bandHeight, (i + 1) * bandHeight]],
            backgroundColor: color,
            borderWidth: 0,
            grouped: false,
            barPercentage: 1,
            categoryPercentage: 1
        }))
    },
    options: {
        responsive: false,
        animation: false,
        events: [],
        layout: { padding: { top: 5.5, left: 6, bottom: 104.5 } },
        plugins: { legend: { display: false }, tooltip: { enabled: false } },
        scales: {
            x: { display: false },
            y: {
                type: 'linear',
                position: 'right',
                min: 0,
                max: maxCount,
                grid: { display: false, drawTicks: false },
                border: { display: false },
                afterFit: s => { s.width = 71; s.paddingTop = 0; s.paddingBottom = 0; },
                afterBuildTicks: s => { s.ticks = zTickLabels.map(v => ({ value: v })); },
                ticks: { color: '#000', font: tickFont, padding: 5, autoSkip: false, callback: v => String(v) }
            }
        }
    },
    plugins: [paletteFrame]
});
</script>
</body>
</html>
